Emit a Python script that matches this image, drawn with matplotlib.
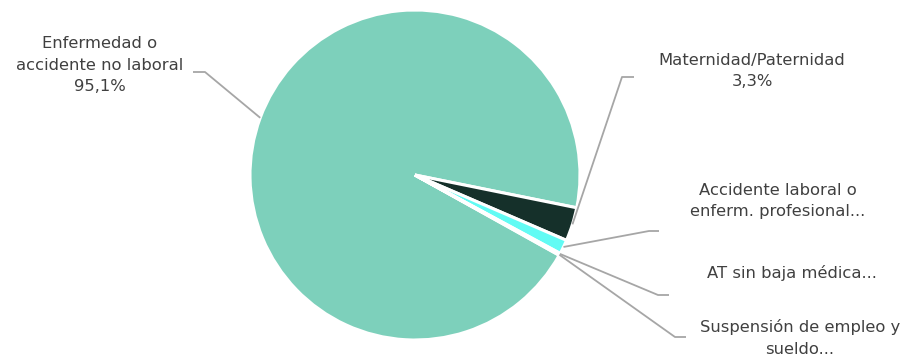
import numpy as np
import matplotlib.pyplot as plt

# datos
categorias = ['Enfermedad o\naccidente no laboral\n95,1%',
              'Maternidad/Paternidad\n3,3%',
              'Accidente laboral o\nenferm. profesional...',
              'AT sin baja médica...',
              'Suspensión de empleo y\nsueldo...']
valores = [95.1, 3.3, 1.4, 0.1, 0.1]
colores = ['#7dd0bb', '#15302a', '#62fbf4', '#7dd0bb', '#7dd0bb']

# posiciones de las etiquetas (pixeles, y desde arriba) y codo de la guía
pos_texto = [(100, 65), (752, 71), (778, 201), (792, 273), (800, 338)]
codo = [((193, 72), (205, 72)),
        ((634, 77), (622, 77)),
        ((659, 231), (649, 231)),
        ((669, 295), (658, 295)),
        ((686, 337), (675, 337))]

W, H = 912, 358
centro = (415, H - 175)
radio = 165

fig = plt.figure(figsize=(W / 100, H / 100), dpi=100)
ax = fig.add_axes([0, 0, 1, 1])

wedges, _ = ax.pie(valores, colors=colores, startangle=330.9, counterclock=False,
                   center=centro, radius=radio, frame=True,
                   wedgeprops=dict(edgecolor='white', linewidth=2.2))
ax.set_xlim(0, W)
ax.set_ylim(0, H)
ax.axis('off')

for w, txt, (tx, ty), (p1, p2) in zip(wedges, categorias, pos_texto, codo):
    ang = np.deg2rad((w.theta1 + w.theta2) / 2)
    x0 = centro[0] + radio * np.cos(ang)
    y0 = centro[1] + radio * np.sin(ang)
    xs = [p1[0], p2[0], x0]
    ys = [H - p1[1], H - p2[1], y0]
    ax.plot(xs, ys, color='#a6a6a6', linewidth=1.3, solid_capstyle='butt')
    ax.text(tx, H - ty, txt, ha='center', va='center', fontsize=11.8,
            color='#404040', linespacing=1.55, family='DejaVu Sans')

fig.savefig('out.png', dpi=100)
